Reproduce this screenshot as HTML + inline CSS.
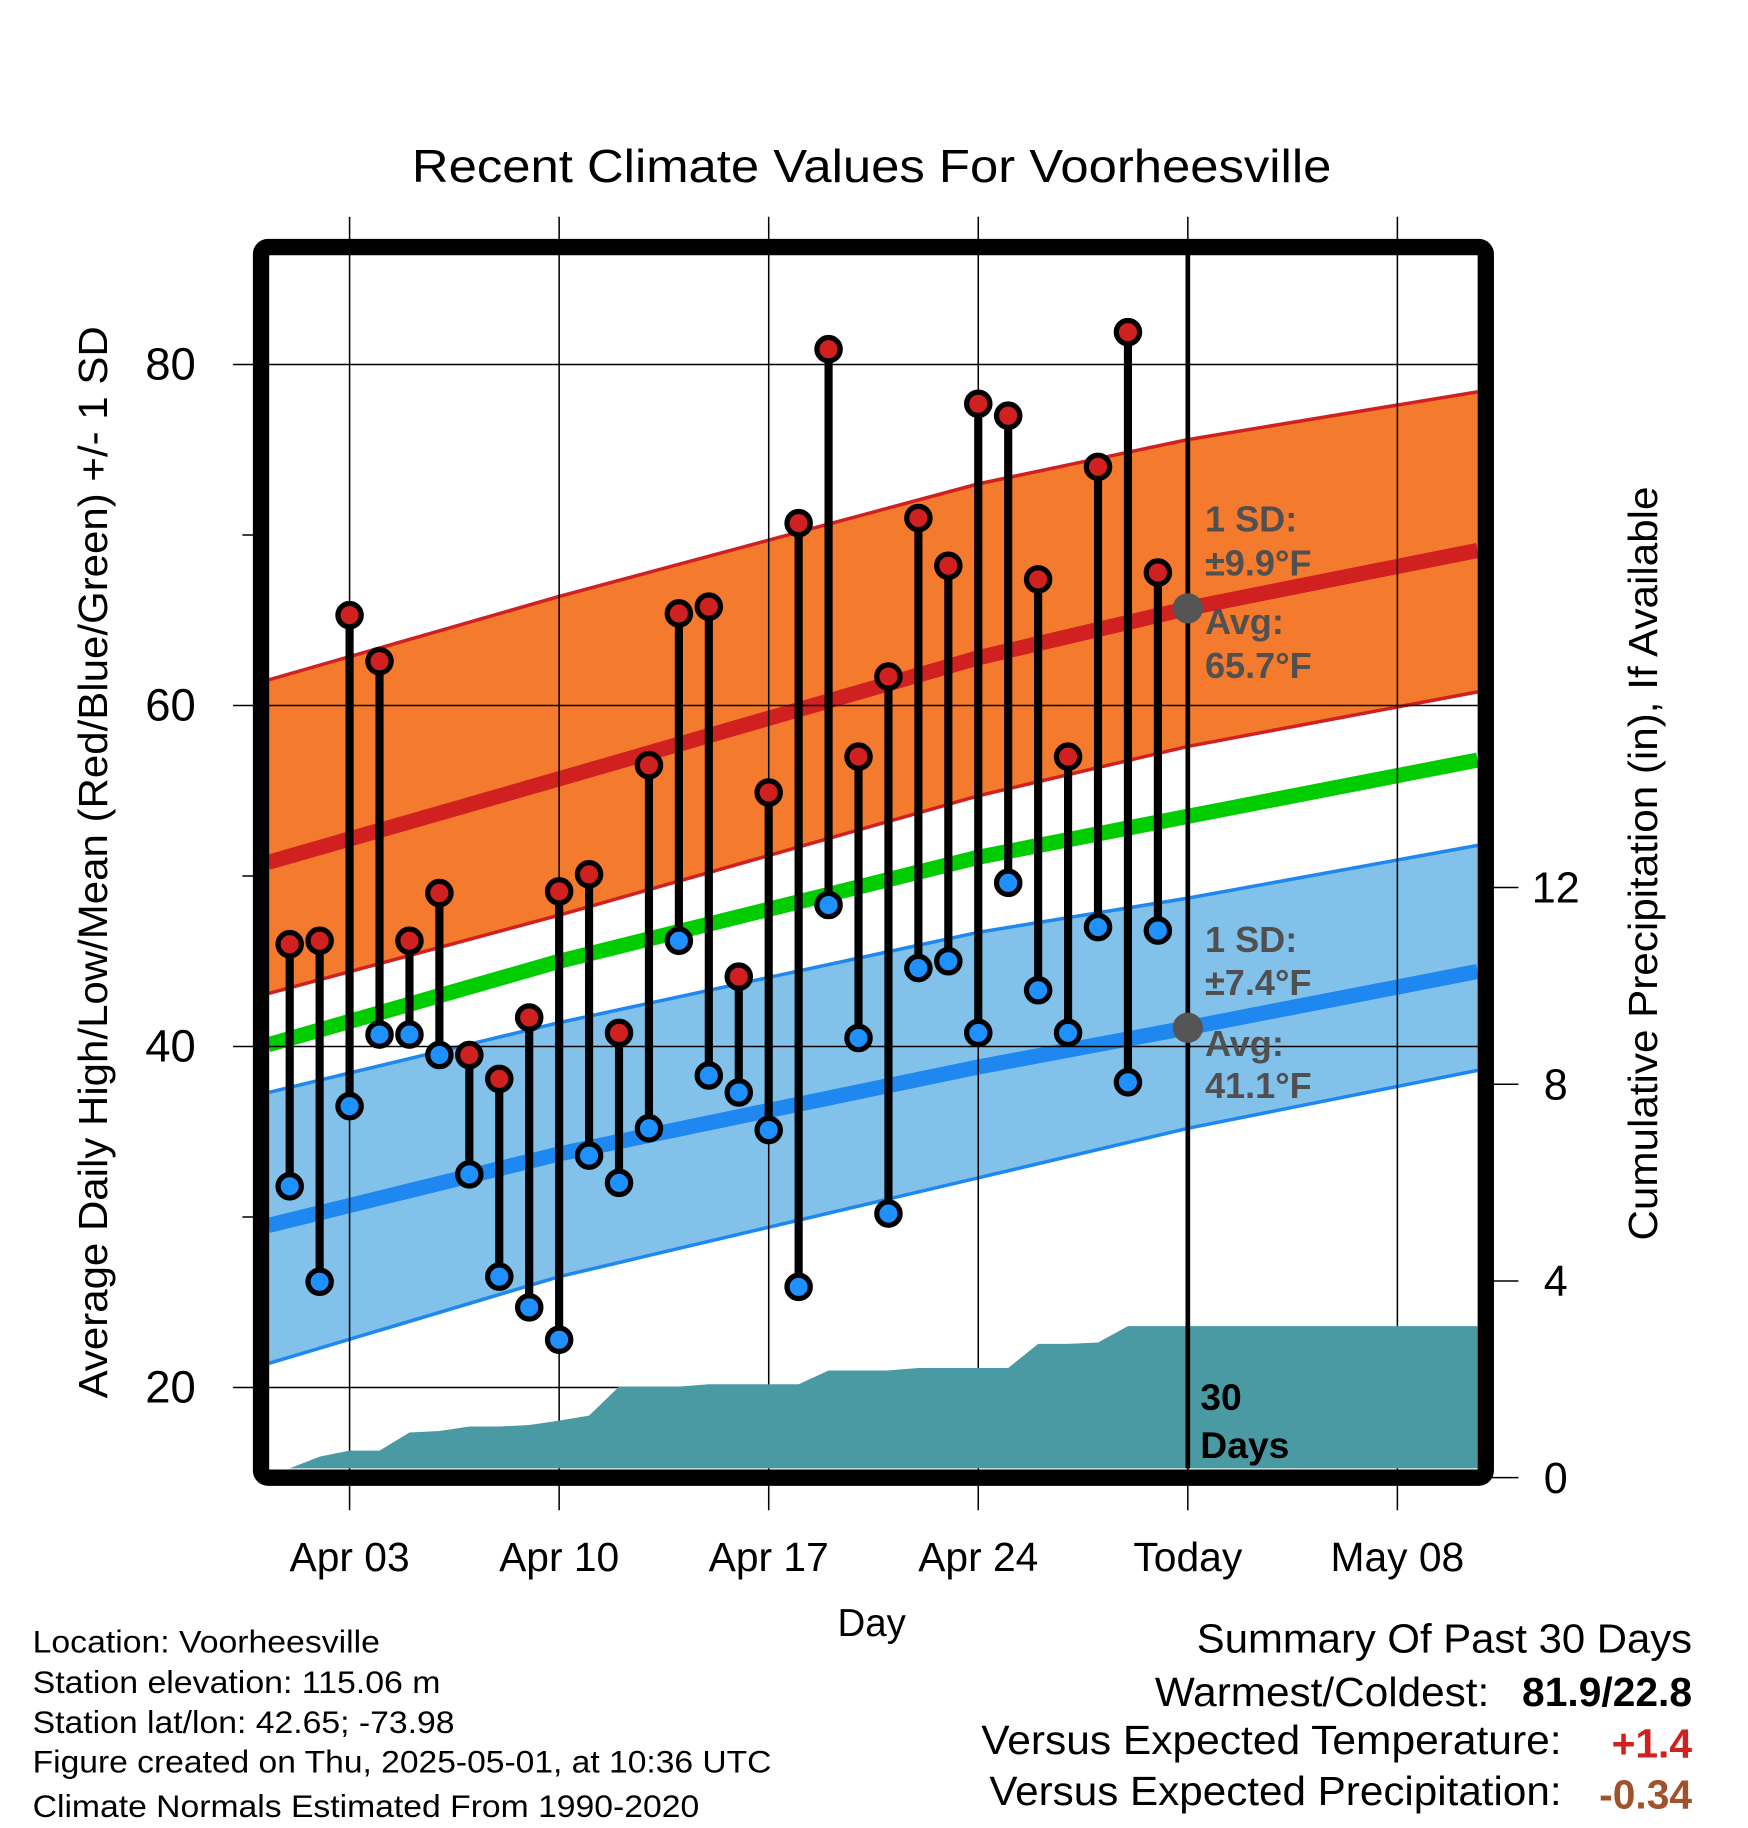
<!DOCTYPE html>
<html><head><meta charset="utf-8"><style>
html,body{margin:0;padding:0;background:#fff;}
svg{display:block;font-family:"Liberation Sans",sans-serif;}
</style></head><body>
<svg id="chart" width="1748" height="1828" viewBox="0 0 1500 1568.6" xmlns="http://www.w3.org/2000/svg">
<g id="bands"></g>
<g id="grid"></g>
<g id="precip"></g>
<g id="marks"></g>
<g id="frame"></g>
<g id="labels"></g>
</svg>
<script>
// ---- data ----
const dayLabels = ["Apr 03","Apr 10","Apr 17","Apr 24","Today","May 08"];
const dayTicks = [2, 9, 16, 23, 30, 37];
const highs = [46.0,46.2,65.3,62.6,46.2,49.0,39.5,38.1,41.7,49.1,50.1,40.8,56.5,65.4,65.8,44.1,54.9,70.7,80.9,57.0,61.7,71.0,68.2,77.7,77.0,67.4,57.0,74.0,81.9,67.8];
const lows  = [31.8,26.2,36.5,40.7,40.7,39.5,32.5,26.5,24.7,22.8,33.6,32.0,35.2,46.2,38.3,37.3,35.1,25.9,48.3,40.5,30.2,44.6,45.0,40.8,49.6,43.3,40.8,47.0,37.9,46.8];
const precip = [0.15,0.43,0.55,0.55,0.92,0.95,1.04,1.04,1.07,1.16,1.26,1.85,1.85,1.85,1.9,1.9,1.9,1.9,2.18,2.18,2.18,2.23,2.23,2.23,2.23,2.72,2.72,2.75,3.08,3.08];
const normDays = [-0.72, 9, 23, 30, 39.68];
const hiUpper = [61.5, 66.4, 73.0, 75.6, 78.4];
const avgHi   = [50.8, 55.7, 62.8, 65.7, 69.1];
const hiLower = [43.1, 47.7, 54.7, 57.6, 60.8];
const meanT   = [40.1, 45.0, 51.1, 53.5, 56.8];
const loUpper = [37.3, 41.4, 46.7, 48.7, 51.8];
const avgLo   = [29.5, 33.7, 38.8, 41.1, 44.4];
const loLower = [21.4, 26.5, 32.3, 35.2, 38.6];
const yTicks = [20, 40, 60, 80];
const yMinor = [30, 50, 70];
const pTicks = [0, 4, 8, 12];

// ---- scales ----
const L=230, R=1268, T=218, B=1260;
const X = d => 248.6 + d*25.69;
const Y = v => 898 - (v-40)*14.63;
const P = v => 1268 - v*42.2;
const NS="http://www.w3.org/2000/svg";
function mk(tag, parent, attrs){const e=document.createElementNS(NS,tag);for(const k in attrs)e.setAttribute(k,attrs[k]);document.getElementById(parent).appendChild(e);return e;}
const line = (ds, vs) => ds.map((d,i)=>X(d).toFixed(1)+","+Y(vs[i]).toFixed(1)).join(" ");
const band = (up, lo) => line(normDays, up)+" "+normDays.map((d,i)=>X(d).toFixed(1)+","+Y(lo[i]).toFixed(1)).reverse().join(" ");

let e;
e=mk("polygon","bands",{points:band(hiUpper,hiLower),fill:"#f47a2e"});


e=mk("polygon","bands",{points:band(loUpper,loLower),fill:"#82c1e9"});


[[hiUpper,"#d02020",3,"high-upper-line"],[hiLower,"#d02020",3,"high-lower-line"],[avgHi,"#d02020",13,"avg-high-line"],[meanT,"#00cc00",13,"mean-line"],[loUpper,"#1e88f0",3,"low-upper-line"],[loLower,"#1e88f0",3,"low-lower-line"],[avgLo,"#1e88f0",13,"avg-low-line"]].forEach(a=>{
  e=mk("polyline","bands",{points:line(normDays,a[0]),fill:"none",stroke:a[1],"stroke-width":a[2],"stroke-linejoin":"round"});
  
  
});

// grid
dayTicks.forEach((d,i)=>{
  e=mk("line","grid",{x1:X(d),x2:X(d),y1:186,y2:1296,stroke:"#000","stroke-width":1.3});
  
  
  e=mk("text","labels",{x:X(d),y:1348,"text-anchor":"middle","font-size":35});
  e.textContent=dayLabels[i];
  
  
});
yTicks.forEach(v=>{
  e=mk("line","grid",{x1:200,x2:R,y1:Y(v),y2:Y(v),stroke:"#000","stroke-width":1.3});
  
  
  e=mk("text","labels",{x:168,y:Y(v)+13,"text-anchor":"end","font-size":39});
  e.textContent=v;
  
  
});
yMinor.forEach(v=>{
  e=mk("line","grid",{x1:208,x2:224,y1:Y(v),y2:Y(v),stroke:"#000","stroke-width":1.3});
  
  
});
pTicks.forEach(v=>{
  e=mk("line","grid",{x1:1275,x2:1303,y1:P(v),y2:P(v),stroke:"#000","stroke-width":1.3});
  
  
  e=mk("text","labels",{x:1335,y:P(v)+13,"text-anchor":"middle","font-size":37});
  e.textContent=v;
  
  
});

// precip area
let pts=[L+","+B, L+","+Math.min(B,P(precip[0]))];
precip.forEach((v,i)=>pts.push(X(i)+","+Math.min(B,P(v)).toFixed(1)));
pts.push(R+","+Math.min(B,P(precip[precip.length-1])).toFixed(1), R+","+B);
e=mk("polygon","precip",{points:pts.join(" "),fill:"#4a9aa3"});



// today line
e=mk("line","marks",{x1:X(30),x2:X(30),y1:T,y2:B,stroke:"#000","stroke-width":4});



// stems + points
highs.forEach((h,i)=>{
  e=mk("line","marks",{x1:X(i),x2:X(i),y1:Y(h),y2:Y(lows[i]),stroke:"#000","stroke-width":7});
  
  
});
highs.forEach((h,i)=>{
  e=mk("circle","marks",{cx:X(i),cy:Y(h),r:10,fill:"#d02020",stroke:"#000","stroke-width":4.5});
  
  
  e=mk("circle","marks",{cx:X(i),cy:Y(lows[i]),r:10,fill:"#1e90ff",stroke:"#000","stroke-width":4.5});
  
  
});
e=mk("circle","marks",{cx:X(30),cy:Y(avgHi[3]),r:13,fill:"#555"});


e=mk("circle","marks",{cx:X(30),cy:Y(avgLo[3]),r:13,fill:"#555"});



// frame
e=mk("rect","frame",{x:224,y:212,width:1051,height:1056,rx:6,fill:"none",stroke:"#000","stroke-width":14});



// text
function txt(s,x,y,size,opts){e=mk("text","labels",Object.assign({x:x,y:y,"font-size":size},opts||{}));e.textContent=s;return e;}
e=txt("Recent Climate Values For Voorheesville",748,156,40,{"text-anchor":"middle",textLength:789,lengthAdjust:"spacingAndGlyphs"});


e=txt("Day",748,1404,33,{"text-anchor":"middle"});


e=txt("Average Daily High/Low/Mean (Red/Blue/Green) +/- 1 SD",92,740,35,{"text-anchor":"middle",transform:"rotate(-90 92 740)",textLength:920,lengthAdjust:"spacingAndGlyphs"});


e=txt("Cumulative Precipitation (in), If Available",1422,741,35,{"text-anchor":"middle",transform:"rotate(-90 1422 741)",textLength:647,lengthAdjust:"spacingAndGlyphs"});


const g={fill:"#505050","font-weight":"bold"};
[["1 SD:",456],["±9.9°F",494],["Avg:",544],["65.7°F",582],["1 SD:",817],["±7.4°F",854],["Avg:",906],["41.1°F",942]].forEach(a=>{
  e=txt(a[0],1034,a[1],31,g);
  
  
});
e=txt("30",1030,1210,32,{"font-weight":"bold"});


e=txt("Days",1030,1251,32,{"font-weight":"bold"});


[["Location: Voorheesville",1418,298],["Station elevation: 115.06 m",1453,350],["Station lat/lon: 42.65; -73.98",1487,362],["Figure created on Thu, 2025-05-01, at 10:36 UTC",1521,634],["Climate Normals Estimated From 1990-2020",1559,572]].forEach(a=>{
  e=txt(a[0],28,a[1],27,{textLength:a[2],lengthAdjust:"spacingAndGlyphs"});
  
  
});
e=txt("Summary Of Past 30 Days",1452,1418,35,{"text-anchor":"end",textLength:425,lengthAdjust:"spacingAndGlyphs"});


e=txt("Warmest/Coldest:",1278,1464,35,{"text-anchor":"end",textLength:287,lengthAdjust:"spacingAndGlyphs"});


e=txt("81.9/22.8",1452,1464,35,{"text-anchor":"end","font-weight":"bold"});


e=txt("Versus Expected Temperature:",1340,1505,35,{"text-anchor":"end",textLength:498,lengthAdjust:"spacingAndGlyphs"});


e=txt("+1.4",1452,1508,35,{"text-anchor":"end","font-weight":"bold",fill:"#d02020"});


e=txt("Versus Expected Precipitation:",1340,1549,35,{"text-anchor":"end",textLength:491,lengthAdjust:"spacingAndGlyphs"});


e=txt("-0.34",1452,1552,35,{"text-anchor":"end","font-weight":"bold",fill:"#a0522d"});


</script>
</body></html>
